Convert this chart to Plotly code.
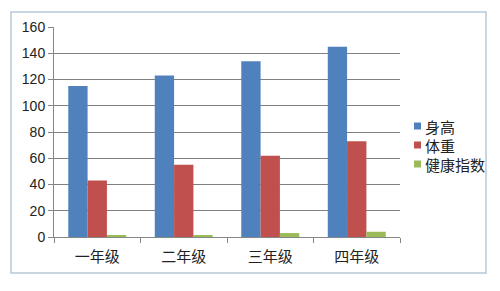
import plotly.graph_objects as go

categories = ["一年级", "二年级", "三年级", "四年级"]
height_vals = [115, 123, 134, 145]
weight_vals = [43, 55, 62, 73]
health_vals = [1.5, 1.5, 3, 4]
series_names = ["身高", "体重", "健康指数"]
colors = ["#4F81BD", "#C0504D", "#9BBB59"]
y_ticks = [0, 20, 40, 60, 80, 100, 120, 140, 160]

W, H = 500, 291
ml, mr, mt, mb = 54, 100, 27, 54
pw, ph = W - ml - mr, H - mt - mb

fig = go.Figure()
for name, vals, c in zip(series_names, [height_vals, weight_vals, health_vals], colors):
    fig.add_trace(go.Bar(x=categories, y=vals, name=name, marker=dict(color=c, line=dict(width=0))))

def px2x(p):
    return (p - ml) / pw

def px2y(p):
    return (H - mb - p) / ph

fig.add_shape(type="rect", xref="paper", yref="paper",
              x0=px2x(11), x1=px2x(486), y0=px2y(12), y1=px2y(273),
              line=dict(color="#B8C8D8", width=1.5), fillcolor="rgba(0,0,0,0)", layer="below")

# manual legend
for i, (name, c) in enumerate(zip(series_names, colors)):
    yc = 126 + i * 19
    fig.add_shape(type="rect", xref="paper", yref="paper",
                  x0=px2x(414), x1=px2x(421), y0=px2y(yc + 3.5), y1=px2y(yc - 3.5),
                  fillcolor=c, line=dict(width=0))
    fig.add_annotation(xref="paper", yref="paper", x=px2x(423), y=px2y(yc),
                       xanchor="left", yanchor="middle", showarrow=False,
                       text=name, font=dict(size=15, color="#222222"))

fig.update_layout(
    width=W, height=H,
    margin=dict(l=ml, r=mr, t=mt, b=mb, pad=0, autoexpand=False),
    paper_bgcolor="white", plot_bgcolor="white",
    barmode="group", bargap=0.33, bargroupgap=0,
    font=dict(family="Noto Sans CJK SC, Noto Sans, sans-serif", size=14, color="#222222"),
    showlegend=False,
    xaxis=dict(showgrid=False, showline=True, linecolor="#868686", linewidth=1,
               ticks="outside", tickson="boundaries", ticklen=5, tickcolor="#868686",
               ticklabelstandoff=6, tickfont=dict(size=15)),
    yaxis=dict(range=[0, 160], tickvals=y_ticks, showgrid=True, gridcolor="#808080", gridwidth=1,
               showline=True, linecolor="#868686", linewidth=1, ticks="outside", ticklen=5,
               tickcolor="#868686", zeroline=False,
               tickfont=dict(size=14, family="Liberation Sans, Arial, sans-serif")),
)

fig.write_html("out.html")
